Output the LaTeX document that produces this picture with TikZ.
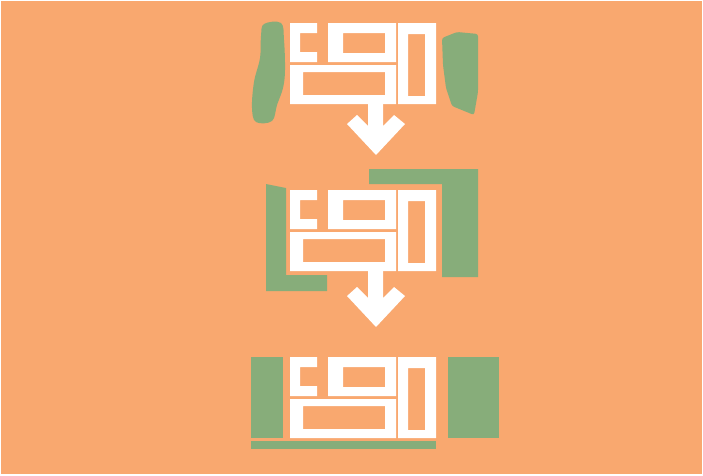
\documentclass[tikz,border=0pt]{standalone}
\usepackage{xcolor}
\usepackage{tikz}

\definecolor{sand}{HTML}{F9A86F}
\definecolor{lawn}{HTML}{87AD7A}

\begin{document}
\begin{tikzpicture}[
    x=0.03cm, y=-0.03cm,
    block/.style={fill=white, even odd rule},
    park/.style={fill=lawn},
    downarrow/.style={fill=white}
]
    % frame and ground
    \fill[white] (0,0) rectangle (703,475);
    \fill[sand] (1,1) rectangle (702,474);

    % green areas, stage 1
    \fill[park] plot[smooth cycle, tension=0.6] coordinates {(264,24) (281,23) (284,40) (285,70) (283,88) (277,105) (272,121) (256,122) (252,108) (254,82) (260,58) (261,36)};
    \fill[park, rounded corners=2pt] (442,38) -- (457,32) -- (478,34) -- (478,92) -- (474,115) -- (452,106) -- (446,88) -- (443,65) -- cycle;

    % green areas, stage 2
    \fill[park] (266,184) -- (286,188) -- (286,275) -- (327,275) -- (327,291) -- (266,291) -- cycle;
    \fill[park] (369,169) -- (478,169) -- (478,277) -- (442,277) -- (442,184) -- (369,184) -- cycle;

    % green areas, stage 3
    \fill[park] (251,357) rectangle (283,438);
    \fill[park] (251,441) rectangle (436,449);
    \fill[park] (448,357) rectangle (499,438);

    % buildings
    \foreach \y in {23,190,357} {
        \begin{scope}[shift={(0,\y)}]
            \fill[white] (317,0) -- (290,0) -- (290,39) -- (317,39) -- (317,29) -- (300,29) -- (300,10) -- (317,10) -- cycle;
            \fill[block] (328,0) rectangle (396,39) (343,10) rectangle (385,30);
            \fill[block] (290,42) rectangle (396,81) (303,49) rectangle (385,72);
            \fill[block] (398,0) rectangle (436,81) (408,11) rectangle (425,73);
        \end{scope}
    }

    % arrows between stages
    \foreach \ys/\ya in {103/155, 270/327} {
        \fill[downarrow] (368,\ys) -- (368,\ya-29) -- (357,\ya-40) -- (347,\ya-31) -- (376,\ya)
            -- (405,\ya-31) -- (394,\ya-40) -- (383,\ya-29) -- (383,\ys) -- cycle;
    }
\end{tikzpicture}
\end{document}
